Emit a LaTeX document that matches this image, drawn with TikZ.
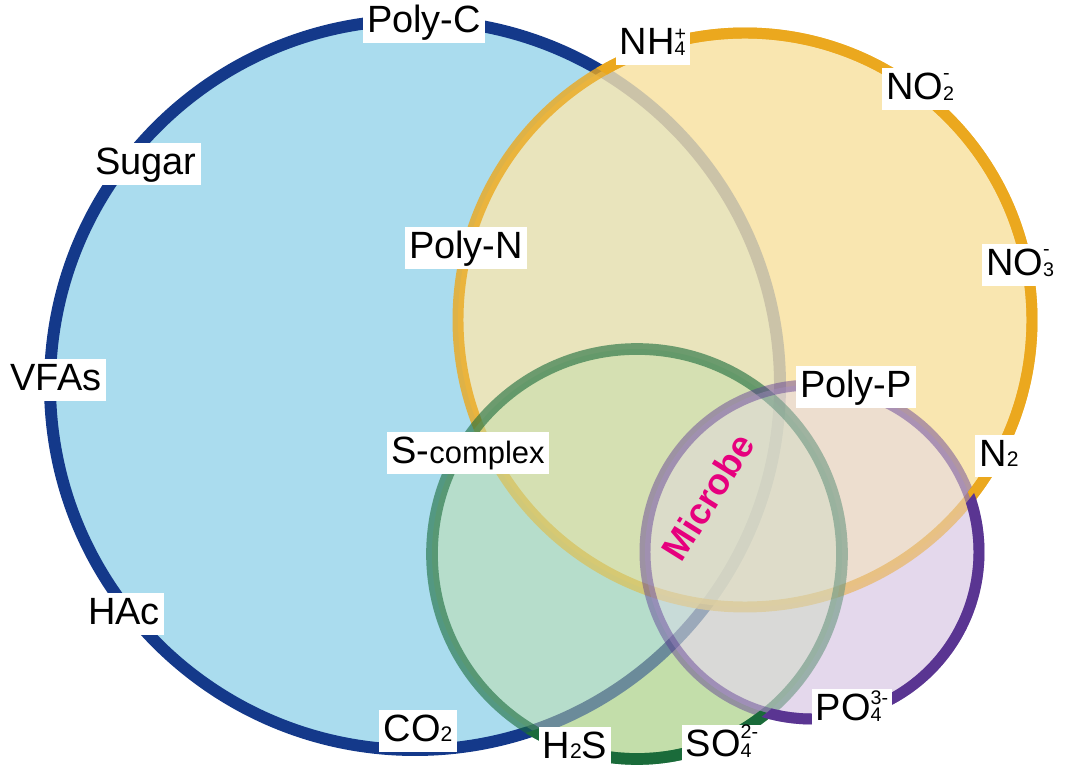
\documentclass[tikz,border=0pt]{standalone}
\usepackage{fontspec}
\setmainfont{Liberation Sans}

\definecolor{cfill}{HTML}{AADCEE}
\definecolor{cline}{HTML}{14398A}
\definecolor{nfill}{HTML}{F9E6B0}
\definecolor{nline}{HTML}{EBA81E}
\definecolor{sfill}{HTML}{C3DEAA}
\definecolor{sline}{HTML}{1A6B3A}
\definecolor{pfill}{HTML}{E4D8EC}
\definecolor{pline}{HTML}{5A3592}
\definecolor{microbe}{HTML}{E6007E}

\newcommand{\radC}{365}
\newcommand{\radN}{287}
\newcommand{\radS}{205}
\newcommand{\radP}{167}

% small index on the baseline (CO2, H2S, N2)
\newcommand{\idx}[1]{{\fontsize{15}{15}\selectfont #1}}
% charge stacked over index (NO3-, PO4 3-, ...)
\newcommand{\ion}[3][0.8em]{{\fontsize{14}{14}\selectfont\ooalign{\raisebox{#1}{#2}\cr\raisebox{-0.08em}{#3}\cr}}}

\begin{document}
\begin{tikzpicture}[
  x=0.025cm, y=-0.025cm,
  % the four pools, second pass
  carbon/.style={fill=cfill, draw=cline, line width=8.5pt},
  nitro/.style={fill=nfill, fill opacity=0.8, draw=nline, draw opacity=0.8, line width=7.8pt},
  sulfur/.style={fill=sfill, fill opacity=0.5, draw=sline, draw opacity=0.6, line width=8.3pt},
  phos/.style={fill=pfill, fill opacity=0.4, draw=pline, draw opacity=0.45, line width=7.8pt},
  % rim labels
  lbl/.style={fill=white, inner xsep=3pt, inner ysep=2pt, text height=20.5pt, text depth=6pt, font=\fontsize{27}{32}\selectfont},
  outside/.style={even odd rule}
]
\useasboundingbox (0,0) rectangle (1068,780);

\coordinate (bl) at (-60,-60);
\coordinate (tr) at (1130,840);
\coordinate (cC) at (415,385);
\coordinate (cN) at (745,320);
\coordinate (cS) at (637,554);
\coordinate (cP) at (812,552);

% base colours
\fill[nfill] (cN) circle[radius=\radN];
\fill[sfill] (cS) circle[radius=\radS];
\fill[pfill] (cP) circle[radius=\radP];

% circles
\draw[carbon] (cC) circle[radius=\radC];
\draw[nitro] (cN) circle[radius=\radN];
\draw[sulfur] (cS) circle[radius=\radS];
\draw[phos] (cP) circle[radius=\radP];

% outer rims in full colour
\begin{scope}[outside]
  \clip (bl) rectangle (tr) (cC) circle[radius=\radC];
  \clip (bl) rectangle (tr) (cS) circle[radius=\radS];
  \clip (bl) rectangle (tr) (cP) circle[radius=\radP];
  \draw[nline, line width=7.8pt] (cN) circle[radius=\radN];
\end{scope}
\begin{scope}[outside]
  \clip (bl) rectangle (tr) (cC) circle[radius=\radC];
  \clip (bl) rectangle (tr) (cN) circle[radius=\radN];
  \clip (bl) rectangle (tr) (cP) circle[radius=\radP];
  \draw[sline, line width=8.3pt] (cS) circle[radius=\radS];
\end{scope}
\begin{scope}[outside]
  \clip (bl) rectangle (tr) (cC) circle[radius=\radC];
  \clip (bl) rectangle (tr) (cN) circle[radius=\radN];
  \clip (bl) rectangle (tr) (cS) circle[radius=\radS];
  \draw[pline, line width=7.8pt] (cP) circle[radius=\radP];
\end{scope}

% labels
\node[lbl] (polyc) at (424,22) {Poly-C};
\node[lbl] (sugar) at (146,164) {Sugar};
\node[lbl] (polyn) at (466,248) {Poly-N};
\node[lbl] (vfas) at (56,380) {VFAs};
\node[lbl] (scomplex) at (468,453) {S-{\fontsize{22}{26}\selectfont complex}};
\node[lbl] (hac) at (124,614) {HAc};
\node[lbl] (co2) at (418,731) {CO\idx{2}};
\node[lbl] (h2s) at (575,748) {H\idx{2}S};
\node[lbl] (so4) at (722,746) {SO\ion[0.88em]{2-}{4}};
\node[lbl] (po4) at (852,710) {PO\ion{3-}{4}};
\node[lbl] (n2) at (999,456) {N\idx{2}};
\node[lbl] (polyp) at (856,387) {Poly-P};
\node[lbl] (no3) at (1020,265) {NO\ion[1.0em]{-}{3}};
\node[lbl] (no2) at (920,89) {NO\ion[1.0em]{-}{2}};
\node[lbl] (nh4) at (653,44) {NH\ion[0.72em]{+}{4}};
\node[rotate=58, text=microbe, font=\fontsize{26}{30}\selectfont\bfseries] (microbe) at (708,497) {Microbe};

\end{tikzpicture}
\end{document}
